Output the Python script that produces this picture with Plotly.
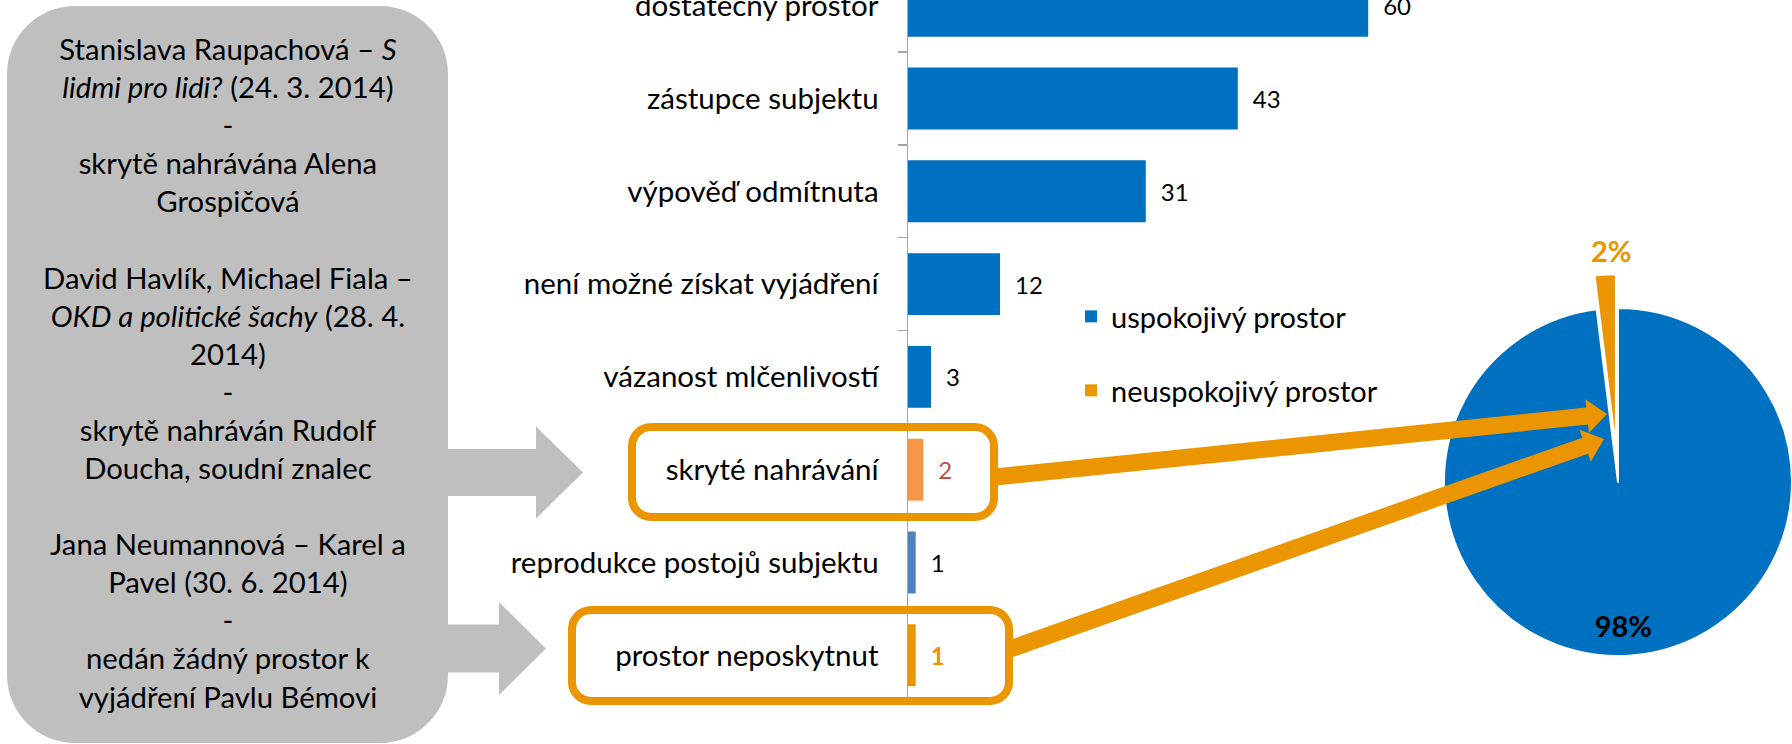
import math
import plotly.graph_objects as go

W, H = 1792, 744

# ---------------- data ----------------
categories = [
    "dostatečný prostor",
    "zástupce subjektu",
    "výpověď odmítnuta",
    "není možné získat vyjádření",
    "vázanost mlčenlivostí",
    "skryté nahrávání",
    "reprodukce postojů subjektu",
    "prostor neposkytnut",
]
values = [60, 43, 31, 12, 3, 2, 1, 1]
satisfactory = [True, True, True, True, True, False, True, False]
bar_colors = ["#0070C0", "#0070C0", "#0070C0", "#0070C0", "#0070C0",
              "#F79646", "#4F81BD", "#EB9500"]
label_colors = ["#000000", "#000000", "#000000", "#000000", "#000000",
                "#C0504D", "#000000", "#EB9500"]
label_bold = [False, False, False, False, False, False, False, True]

pie_labels = ["uspokojivý prostor", "neuspokojivý prostor"]
pie_colors = ["#0070C0", "#EB9500"]

note_lines = [
    "Stanislava Raupachová – <i>S</i>",
    "<i>lidmi pro lidi?</i> (24. 3. 2014)",
    "-",
    "skrytě nahrávána Alena",
    "Grospičová",
    "\u00a0",
    "David Havlík, Michael Fiala –",
    "<i>OKD a politické šachy</i> (28. 4.",
    "2014)",
    "-",
    "skrytě nahráván Rudolf",
    "Doucha, soudní znalec",
    "\u00a0",
    "Jana Neumannová – Karel a",
    "Pavel (30. 6. 2014)",
    "-",
    "nedán žádný prostor k",
    "vyjádření Pavlu Bémovi",
]

FONT = "Lato, 'Open Sans', sans-serif"
ORANGE = "#EB9500"
GRAY = "#BFBFBF"
TRANSPARENT = "rgba(0,0,0,0)"


# ---------------- helpers (pixel -> paper) ----------------
def px(x):
    return x / W


def py(y):
    return 1 - y / H


def pt(x, y):
    return f"{px(x):.5f},{py(y):.5f}"


def rounded_rect(x0, y0, x1, y1, r):
    k = 0.5523 * r
    return (
        f"M{pt(x0 + r, y0)} L{pt(x1 - r, y0)} "
        f"C{pt(x1 - r + k, y0)} {pt(x1, y0 + r - k)} {pt(x1, y0 + r)} "
        f"L{pt(x1, y1 - r)} "
        f"C{pt(x1, y1 - r + k)} {pt(x1 - r + k, y1)} {pt(x1 - r, y1)} "
        f"L{pt(x0 + r, y1)} "
        f"C{pt(x0 + r - k, y1)} {pt(x0, y1 - r + k)} {pt(x0, y1 - r)} "
        f"L{pt(x0, y0 + r)} "
        f"C{pt(x0, y0 + r - k)} {pt(x0 + r - k, y0)} {pt(x0 + r, y0)} Z"
    )


def block_arrow(x0, x_head, x_tip, yc, shaft_half, head_half):
    pts = [(x0, yc - shaft_half), (x_head, yc - shaft_half), (x_head, yc - head_half),
           (x_tip, yc), (x_head, yc + head_half), (x_head, yc + shaft_half),
           (x0, yc + shaft_half)]
    return "M" + " L".join(pt(a, b) for a, b in pts) + " Z"


def line_arrow(sx, sy, tx, ty, shaft_half, head_half, head_len):
    dx, dy = tx - sx, ty - sy
    L = math.hypot(dx, dy)
    ux, uy = dx / L, dy / L
    nx, ny = -uy, ux
    bx, by = tx - ux * head_len, ty - uy * head_len
    pts = [(sx + nx * shaft_half, sy + ny * shaft_half),
           (bx + nx * shaft_half, by + ny * shaft_half),
           (bx + nx * head_half, by + ny * head_half),
           (tx, ty),
           (bx - nx * head_half, by - ny * head_half),
           (bx - nx * shaft_half, by - ny * shaft_half),
           (sx - nx * shaft_half, sy - ny * shaft_half)]
    return "M" + " L".join(pt(a, b) for a, b in pts) + " Z"


# ---------------- figure ----------------
fig = go.Figure()

groups = [("uspokojivý prostor", True, "legend"), ("neuspokojivý prostor", False, "legend2")]
for name, flag, leg in groups:
    idx = [i for i in range(len(categories)) if satisfactory[i] == flag]
    if not flag:
        idx = idx[::-1]  # legend swatch takes the colour of the first bar
    fig.add_trace(go.Bar(
        orientation="h",
        name=name,
        y=[categories[i] for i in idx],
        x=[values[i] for i in idx],
        marker=dict(color=[bar_colors[i] for i in idx], line=dict(width=0)),
        texttemplate=[("\u2002<b>%{x}</b>" if label_bold[i] else "\u2002%{x}") for i in idx],
        textposition="outside",
        textfont=dict(family=FONT, size=24, color=[label_colors[i] for i in idx]),
        cliponaxis=False,
        legend=leg,
        hoverinfo="skip",
    ))

sat_total = sum(v for v, s in zip(values, satisfactory) if s)
unsat_total = sum(v for v, s in zip(values, satisfactory) if not s)
pie_values = [sat_total, unsat_total]

# pie geometry (pixels)
cx, cy, r = 1618, 482, 174
pull = 0.195
share = unsat_total / (sat_total + unsat_total)
mid = 2 * math.pi * (1 - share / 2)  # clockwise from 12 o'clock
ox, oy = cx + math.sin(mid) * pull * r, cy - math.cos(mid) * pull * r

fig.add_trace(go.Pie(
    labels=pie_labels, values=pie_values, sort=False, direction="clockwise", rotation=0,
    marker=dict(colors=[pie_colors[0], TRANSPARENT], line=dict(color="white", width=[2, 0])),
    textposition=["inside", "none"],
    texttemplate="\u00a0<br>\u00a0<br>\u00a0<br><b>%{percent:.0%}</b>",
    insidetextorientation="horizontal",
    textfont=dict(family=FONT, size=29, color="black"),
    domain=dict(x=[px(cx - r), px(cx + r)], y=[py(cy + r), py(cy - r)]),
    showlegend=False, hoverinfo="skip",
))
fig.add_trace(go.Pie(
    labels=pie_labels, values=pie_values, sort=False, direction="clockwise", rotation=0,
    marker=dict(colors=[TRANSPARENT, pie_colors[1]], line=dict(color="white", width=[0, 2])),
    textposition="none",
    domain=dict(x=[px(ox - r), px(ox + r)], y=[py(oy + r), py(oy - r)]),
    showlegend=False, hoverinfo="skip",
))

# axis geometry
axis_x = 908
ppu = 7.67
band = 92.8
bottom_px = 701.7
n = len(categories)
xmax = 70
top_val = (n - 0.5) - bottom_px / band

shapes = []
# grey note box
shapes.append(dict(type="path", xref="paper", yref="paper", layer="below",
                   path=rounded_rect(7, 6, 448, 743, 68),
                   fillcolor=GRAY, line=dict(width=0)))
# grey block arrows
shapes.append(dict(type="path", xref="paper", yref="paper", layer="below",
                   path=block_arrow(440, 536, 583, 472.5, 23.5, 46),
                   fillcolor=GRAY, line=dict(width=0)))
shapes.append(dict(type="path", xref="paper", yref="paper", layer="below",
                   path=block_arrow(440, 499, 546, 648.5, 24, 46.5),
                   fillcolor=GRAY, line=dict(width=0)))
# orange highlight boxes
shapes.append(dict(type="path", xref="paper", yref="paper", layer="above",
                   path=rounded_rect(632, 427, 994, 517, 19),
                   line=dict(color=ORANGE, width=8)))
shapes.append(dict(type="path", xref="paper", yref="paper", layer="above",
                   path=rounded_rect(572, 610, 1009, 701, 19),
                   line=dict(color=ORANGE, width=8)))
# orange arrows to the pie
shapes.append(dict(type="path", xref="paper", yref="paper", layer="above",
                   path=line_arrow(995, 477, 1607, 414, 8.5, 17, 20),
                   fillcolor=ORANGE, line=dict(width=0)))
shapes.append(dict(type="path", xref="paper", yref="paper", layer="above",
                   path=line_arrow(1010, 649, 1604, 439, 8.5, 17, 20),
                   fillcolor=ORANGE, line=dict(width=0)))

annotations = [
    dict(xref="paper", yref="paper", x=px(227.5), y=py(372), xanchor="center", yanchor="middle",
         text="<br>".join(note_lines), showarrow=False, align="center",
         font=dict(family=FONT, size=29.3, color="black")),
    # label of the pulled-out slice, placed just above its arc
    dict(xref="paper", yref="paper", x=px(ox - 4), y=py(oy - r - 4),
         xanchor="center", yanchor="bottom", showarrow=False,
         text=f"<b>{round(100 * share)}%</b>",
         font=dict(family=FONT, size=29, color=ORANGE)),
]

fig.update_layout(
    width=W, height=H,
    margin=dict(l=0, r=0, t=0, b=0, autoexpand=False),
    paper_bgcolor="white", plot_bgcolor="white",
    barmode="relative", bargap=0.333,
    font=dict(family=FONT, color="black"),
    xaxis=dict(domain=[px(axis_x), px(axis_x + xmax * ppu)], range=[0, xmax],
               visible=False, fixedrange=True, automargin=False),
    yaxis=dict(domain=[py(bottom_px), 1], type="category",
               categoryorder="array", categoryarray=categories,
               range=[n - 0.5, top_val], automargin=False,
               showline=True, linecolor="#A6A6A6", linewidth=1.5,
               ticks="outside", ticklen=9, tickwidth=1.5, tickcolor="#A6A6A6",
               tickson="boundaries", showgrid=False, zeroline=False,
               ticklabelstandoff=22,
               tickfont=dict(family=FONT, size=29.5, color="black"),
               fixedrange=True),
    legend=dict(x=px(1071), xanchor="left", y=py(316.5), yanchor="middle",
                font=dict(family=FONT, size=29, color="black"),
                bgcolor="rgba(0,0,0,0)", borderwidth=0),
    legend2=dict(x=px(1071), xanchor="left", y=py(390.5), yanchor="middle",
                 font=dict(family=FONT, size=29, color="black"),
                 bgcolor="rgba(0,0,0,0)", borderwidth=0),
    shapes=shapes,
    annotations=annotations,
)

fig.write_html(
    "out.html",
    config={"displayModeBar": False, "staticPlot": True},
    post_script="document.body.style.margin='0px';document.body.style.overflow='hidden';",
)
